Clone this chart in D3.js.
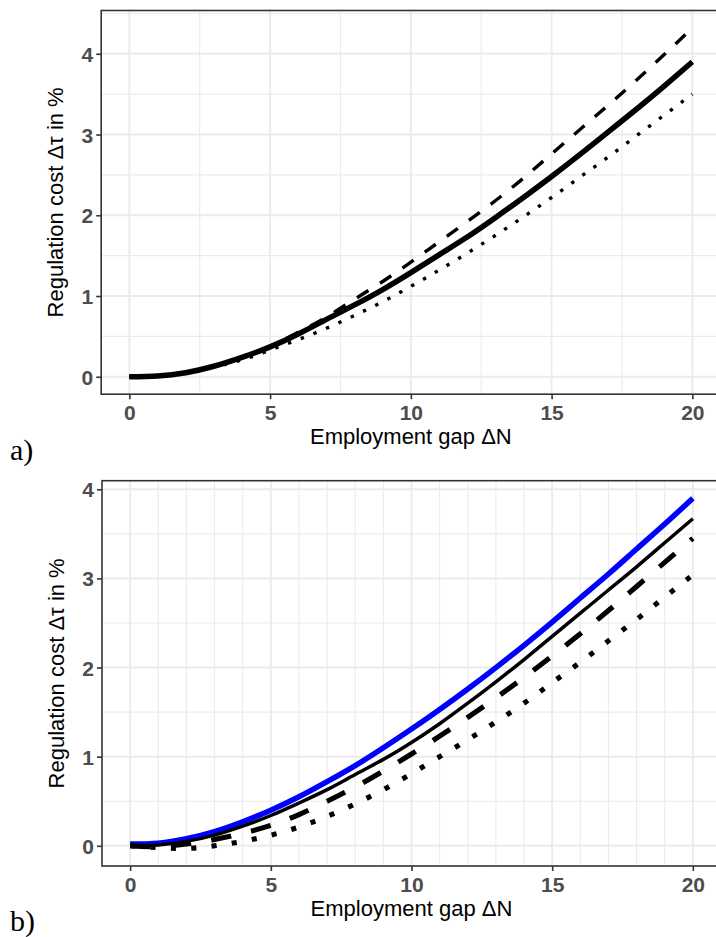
<!DOCTYPE html>
<html>
<head>
<meta charset="utf-8">
<script src="https://cdn.jsdelivr.net/npm/d3@7"></script>
<style>
  html, body { margin: 0; padding: 0; background: #fff; }
  svg { display: block; }
  .axis-title { font-family: "Liberation Sans", Arial, sans-serif; font-size: 22px; fill: #000; }
  .panel-tag { font-family: "Liberation Serif", "Times New Roman", serif; font-size: 30px; fill: #000; }
</style>
</head>
<body>
<svg id="chart" width="716" height="937"></svg>
<script>
// Employment gap ΔN (shared x values)
const gap = d3.range(0, 21);

// Panel a) regulation cost Δτ in %
const costA_solid  = [0, 0.01, 0.05, 0.13, 0.24, 0.37, 0.53, 0.71, 0.89, 1.08, 1.29, 1.51, 1.73, 1.97, 2.22, 2.48, 2.75, 3.03, 3.31, 3.60, 3.90];
const costA_dashed = [0, 0.01, 0.05, 0.13, 0.24, 0.38, 0.55, 0.74, 0.96, 1.18, 1.42, 1.67, 1.92, 2.18, 2.46, 2.76, 3.06, 3.36, 3.67, 3.99, 4.32];
const costA_dotted = [0, 0.01, 0.05, 0.12, 0.21, 0.33, 0.46, 0.60, 0.76, 0.93, 1.12, 1.32, 1.53, 1.75, 1.98, 2.22, 2.47, 2.72, 2.98, 3.24, 3.50];

// Panel b) regulation cost Δτ in %
const costB_blue   = [0.02, 0.03, 0.08, 0.16, 0.27, 0.40, 0.55, 0.72, 0.90, 1.10, 1.31, 1.53, 1.76, 2.00, 2.25, 2.51, 2.78, 3.05, 3.33, 3.61, 3.90];
const costB_solid  = [0, 0.01, 0.05, 0.12, 0.22, 0.34, 0.48, 0.63, 0.80, 0.97, 1.16, 1.37, 1.60, 1.84, 2.09, 2.35, 2.61, 2.87, 3.13, 3.40, 3.67];
const costB_dashed = [0, -0.01, 0.02, 0.07, 0.14, 0.23, 0.35, 0.50, 0.66, 0.84, 1.03, 1.23, 1.44, 1.66, 1.89, 2.13, 2.38, 2.64, 2.91, 3.18, 3.45];
const costB_dotted = [0, -0.02, -0.03, 0.00, 0.05, 0.12, 0.21, 0.33, 0.47, 0.63, 0.81, 1.00, 1.19, 1.39, 1.60, 1.83, 2.06, 2.30, 2.54, 2.79, 3.04];

// Axis breaks and labels
const xBreaks = [0, 5, 10, 15, 20];
const yBreaks = [0, 1, 2, 3, 4];
const xTitle = "Employment gap ΔN";
const yTitle = "Regulation cost Δτ in %";

const svg = d3.select("#chart");
svg.append("rect").attr("width", 716).attr("height", 937).attr("fill", "#fff");

function expand(lo, hi, f) {
  const d = (hi - lo) * f;
  return [lo - d, hi + d];
}

function drawPanel(cfg) {
  const { box, series, xMinor, yMinor, tag, tagPos } = cfg;
  const xExt = d3.extent(gap);
  const allY = series.flatMap(s => s.values);
  const yExt = d3.extent(allY);

  const x = d3.scaleLinear().domain(expand(xExt[0], xExt[1], 0.05)).range([box.left, box.right]);
  const y = d3.scaleLinear().domain(expand(yExt[0], yExt[1], 0.05)).range([box.bottom, box.top]);

  const g = svg.append("g");
  const clipId = "clip-" + tag.replace(/\W/g, "");
  svg.append("clipPath").attr("id", clipId)
    .append("rect")
    .attr("x", box.left).attr("y", box.top)
    .attr("width", box.right - box.left).attr("height", box.bottom - box.top);

  const grid = g.append("g").attr("clip-path", `url(#${clipId})`);
  // minor grid
  grid.selectAll("line.vminor").data(xMinor).join("line")
    .attr("x1", d => x(d)).attr("x2", d => x(d))
    .attr("y1", box.top).attr("y2", box.bottom)
    .attr("stroke", "#ebebeb").attr("stroke-width", 1.1);
  grid.selectAll("line.hminor").data(yMinor).join("line")
    .attr("y1", d => y(d)).attr("y2", d => y(d))
    .attr("x1", box.left).attr("x2", box.right)
    .attr("stroke", "#ebebeb").attr("stroke-width", 1.1);
  // major grid
  grid.selectAll("line.vmajor").data(xBreaks).join("line")
    .attr("x1", d => x(d)).attr("x2", d => x(d))
    .attr("y1", box.top).attr("y2", box.bottom)
    .attr("stroke", "#ebebeb").attr("stroke-width", 1.9);
  grid.selectAll("line.hmajor").data(yBreaks).join("line")
    .attr("y1", d => y(d)).attr("y2", d => y(d))
    .attr("x1", box.left).attr("x2", box.right)
    .attr("stroke", "#ebebeb").attr("stroke-width", 1.9);

  // curves
  const lines = g.append("g").attr("clip-path", `url(#${clipId})`);
  series.forEach(s => {
    const line = d3.line()
      .x((d, i) => x(gap[i]))
      .y(d => y(d))
      .curve(d3.curveNatural);
    lines.append("path")
      .attr("d", line(s.values))
      .attr("fill", "none")
      .attr("stroke", s.color)
      .attr("stroke-width", s.width)
      .attr("stroke-dasharray", s.dash || null)
      .attr("stroke-linecap", "butt")
      .attr("stroke-linejoin", "round");
  });

  // panel border
  g.append("rect")
    .attr("x", box.left).attr("y", box.top)
    .attr("width", box.right - box.left).attr("height", box.bottom - box.top)
    .attr("fill", "none").attr("stroke", "#333333").attr("stroke-width", 1.6);

  // axes with ticks
  const xAxis = d3.axisBottom(x).tickValues(xBreaks).tickSize(5).tickFormat(d3.format("d"));
  const yAxis = d3.axisLeft(y).tickValues(yBreaks).tickSize(5).tickFormat(d3.format("d"));

  const gx = g.append("g").attr("transform", `translate(0,${box.bottom})`).call(xAxis);
  const gy = g.append("g").attr("transform", `translate(${box.left},0)`).call(yAxis);
  [gx, gy].forEach(a => {
    a.attr("font-family", "Liberation Sans, Arial, sans-serif")
     .attr("font-size", 21)
     .attr("font-weight", "bold");
    a.select(".domain").remove();
    a.selectAll(".tick line").attr("stroke", "#333333").attr("stroke-width", 1.6);
    a.selectAll(".tick text").attr("fill", "#4d4d4d");
  });
  gx.selectAll(".tick text").attr("y", 25.5).attr("dy", 0);
  gy.selectAll(".tick text").attr("x", -8).attr("dy", "0.36em");

  // axis titles
  g.append("text").attr("class", "axis-title")
    .attr("x", (box.left + box.right) / 2).attr("y", box.bottom + 50)
    .attr("text-anchor", "middle").text(xTitle);
  g.append("text").attr("class", "axis-title")
    .attr("transform", `translate(${box.left - 38},${(box.top + box.bottom) / 2}) rotate(-90)`)
    .attr("text-anchor", "middle").text(yTitle);

  // panel tag
  g.append("text").attr("class", "panel-tag")
    .attr("x", tagPos[0]).attr("y", tagPos[1]).text(tag);
}

drawPanel({
  box: { left: 101.2, right: 720.5, top: 10.5, bottom: 394.2 },
  series: [
    { values: costA_dashed, color: "#000", width: 3.4, dash: "13.6,13.6" },
    { values: costA_dotted, color: "#000", width: 3.4, dash: "3.4,10.2" },
    { values: costA_solid,  color: "#000", width: 5.5 }
  ],
  xMinor: [2.5, 7.5, 12.5, 17.5],
  yMinor: [0.5, 1.5, 2.5, 3.5, 4.5],
  tag: "a)",
  tagPos: [10, 460]
});

drawPanel({
  box: { left: 102, right: 721, top: 480.7, bottom: 866 },
  series: [
    { values: costB_blue,   color: "#0000ff", width: 5.5 },
    { values: costB_solid,  color: "#000", width: 3.5 },
    { values: costB_dashed, color: "#000", width: 5.1, dash: "20.4,20.4" },
    { values: costB_dotted, color: "#000", width: 5.1, dash: "5.1,15.3" }
  ],
  xMinor: d3.range(0, 21).filter(d => d % 5 !== 0),
  yMinor: [0.5, 1.5, 2.5, 3.5],
  tag: "b)",
  tagPos: [10, 931]
});
</script>
</body>
</html>
